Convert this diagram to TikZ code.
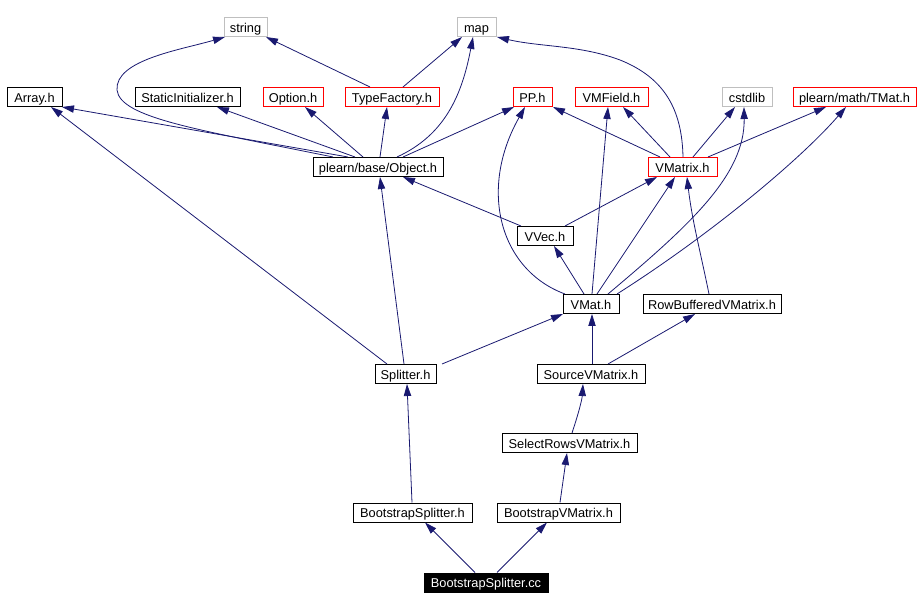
\documentclass[tikz,border=0pt]{standalone}
\usepackage{fontspec}
\setmainfont{Liberation Sans}
\usetikzlibrary{arrows.meta}
\definecolor{edgeblue}{RGB}{25,25,112}
\definecolor{lightgraybox}{RGB}{191,191,191}
\begin{document}
\begin{tikzpicture}[x=0.75pt,y=-0.75pt,
  box/.style={draw=black,line width=0.75pt,rectangle,inner sep=0pt,minimum height=19*0.75pt,text height=8pt,text depth=0pt,font=\fontsize{9.6}{11}\selectfont,text=black},
  redbox/.style={box,draw=red},
  graybox/.style={box,draw=lightgraybox},
  rootbox/.style={box,fill=black,text=white},
  edge/.style={draw=edgeblue,line width=0.6pt,-{Triangle[length=9pt,width=5.5pt]},fill=none},
]
\useasboundingbox (0,0) rectangle (921,609);
% nodes
\node[graybox,minimum width=43*0.75pt] (str) at (245.5,27) {string};
\node[graybox,minimum width=39*0.75pt] (map) at (476.5,27) {map};
\node[box,minimum width=55*0.75pt] (arr) at (34.5,97) {Array.h};
\node[box,minimum width=105*0.75pt] (si) at (187.5,97) {StaticInitializer.h};
\node[redbox,minimum width=60*0.75pt] (opt) at (293,97) {Option.h};
\node[redbox,minimum width=94*0.75pt] (tf) at (392,97) {TypeFactory.h};
\node[redbox,minimum width=39*0.75pt] (pp) at (532.5,97) {PP.h};
\node[redbox,minimum width=73*0.75pt] (vmf) at (611.5,97) {VMField.h};
\node[graybox,minimum width=50*0.75pt] (cst) at (747,97) {cstdlib};
\node[redbox,minimum width=123*0.75pt] (tmat) at (854.5,97) {plearn/math/TMat.h};
\node[box,minimum width=130*0.75pt] (obj) at (378,167) {plearn/base/Object.h};
\node[redbox,minimum width=69*0.75pt] (vmx) at (682.5,167) {VMatrix.h};
\node[box,minimum width=56*0.75pt] (vvec) at (545,236) {VVec.h};
\node[box,minimum width=56*0.75pt] (vmat) at (591,304) {VMat.h};
\node[box,minimum width=138*0.75pt] (rbv) at (712,304) {RowBufferedVMatrix.h};
\node[box,minimum width=61*0.75pt] (spl) at (405.5,374) {Splitter.h};
\node[box,minimum width=108*0.75pt] (svm) at (591,374) {SourceVMatrix.h};
\node[box,minimum width=135*0.75pt] (srv) at (569.5,443) {SelectRowsVMatrix.h};
\node[box,minimum width=119*0.75pt] (bsh) at (412.5,512.5) {BootstrapSplitter.h};
\node[box,minimum width=123*0.75pt] (bvm) at (558.5,512.5) {BootstrapVMatrix.h};
\node[rootbox,minimum width=124*0.75pt] (cc) at (486,582.5) {BootstrapSplitter.cc};
% edges
\draw[edge] (cc.north -| 475,0) -- (bsh.south -| 425,0);
\draw[edge] (cc.north -| 497,0) -- (bvm.south -| 547,0);
\draw[edge] (bsh.north -| 412,0) -- (spl.south -| 407,0);
\draw[edge] (bvm.north -| 560,0) -- (srv.south -| 567,0);
\draw[edge] (srv.north -| 572,0) .. controls (578,415) and (582,400) .. (svm.south -| 583,0);
\draw[edge] (svm.north -| 592,0) -- (vmat.south -| 592,0);
\draw[edge] (svm.north -| 608,0) -- (rbv.south -| 695,0);
\draw[edge] (spl.north -| 442,0) -- (vmat.south -| 563,0);
\draw[edge] (spl.north -| 387,0) -- (arr.south -| 51,0);
\draw[edge] (spl.north -| 404,0) -- (obj.south -| 380,0);
\draw[edge] (rbv.north -| 709,0) .. controls (700,250) and (692,220) .. (vmx.south -| 687,0);
\draw[edge] (vmat.north -| 584,0) -- (vvec.south -| 554,0);
\draw[edge] (vmat.north -| 565,0) .. controls (500,270) and (478,190) .. (pp.south -| 525,0);
\draw[edge] (vmat.north -| 592,0) -- (vmf.south -| 608,0);
\draw[edge] (vmat.north -| 597,0) -- (vmx.south -| 675,0);
\draw[edge] (vmat.north -| 608,0) .. controls (690,225) and (745,175) .. (cst.south -| 744,0);
\draw[edge] (vmat.north -| 617,0) .. controls (710,235) and (800,160) .. (tmat.south -| 846,0);
\draw[edge] (vvec.north -| 521,0) -- (obj.south -| 403,0);
\draw[edge] (vvec.north -| 565,0) -- (vmx.south -| 657,0);
\draw[edge] (vmx.north -| 683,0) .. controls (682,110) and (665,78) .. (620,60) .. controls (580,45) and (540,47) .. (map.south -| 497,0);
\draw[edge] (vmx.north -| 660,0) -- (pp.south -| 553,0);
\draw[edge] (vmx.north -| 670,0) -- (vmf.south -| 623,0);
\draw[edge] (vmx.north -| 693,0) -- (cst.south -| 735,0);
\draw[edge] (vmx.north -| 708,0) -- (tmat.south -| 826,0);
\draw[edge] (obj.north -| 348,0) -- (arr.south -| 62,0);
\draw[edge] (obj.north -| 355,0) -- (si.south -| 217,0);
\draw[edge] (obj.north -| 363,0) -- (opt.south -| 305,0);
\draw[edge] (obj.north -| 380,0) -- (tf.south -| 387,0);
\draw[edge] (obj.north -| 333,0) .. controls (200,130) and (120,118) .. (117,90) .. controls (115,60) and (180,50) .. (str.south -| 225,0);
\draw[edge] (obj.north -| 397,0) .. controls (445,135) and (462,95) .. (map.south -| 473,0);
\draw[edge] (obj.north -| 403,0) -- (pp.south -| 514,0);
\draw[edge] (tf.north -| 370,0) -- (str.south -| 266,0);
\draw[edge] (tf.north -| 403,0) -- (map.south -| 462,0);
\end{tikzpicture}
\end{document}
